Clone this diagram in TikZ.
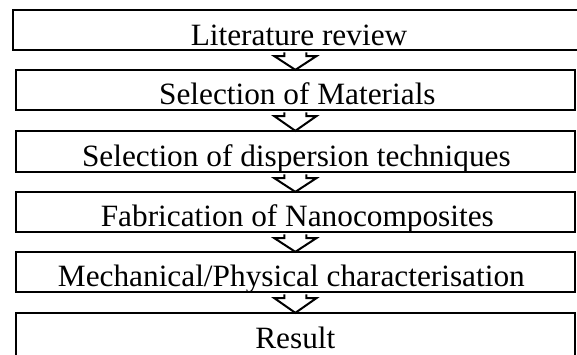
\documentclass[tikz,border=0pt]{standalone}
\usepackage{fontspec}
\setmainfont[FakeStretch=1.01]{Liberation Serif}
\usetikzlibrary{calc}
\begin{document}
\begin{tikzpicture}[x=1pt,y=-1pt,
  stagebox/.style={draw=black, line width=2.3pt, rectangle, inner sep=0pt, fill=white},
  stagetext/.style={anchor=base, inner sep=0pt, font=\fontsize{31}{37}\selectfont},
  blockarrow/.style={draw=black, line width=2pt, fill=white, line join=miter}]
\useasboundingbox (0,0) rectangle (577,354);
\fill[white] (0,0) rectangle (577,354);
% boxes
\node[stagebox, minimum width=568pt, minimum height=40pt] (b1) at (297,30) {};
\node[stagebox, minimum width=559.3pt, minimum height=40pt] (b2) at (295.35,90) {};
\node[stagebox, minimum width=559.3pt, minimum height=41pt] (b3) at (295.35,151.5) {};
\node[stagebox, minimum width=559.3pt, minimum height=40pt] (b4) at (295.35,212) {};
\node[stagebox, minimum width=559.3pt, minimum height=40pt] (b5) at (295.35,272) {};
\node[stagebox, minimum width=559.3pt, minimum height=43pt] (b6) at (295.35,334.5) {};
% texts, clipped by their boxes
\begin{scope}
  \clip (b1.north west) rectangle (b1.south east);
  \node[stagetext] (t1) at ($(b1.south)+(2,-5.5)$) {Literature review};
\end{scope}
\begin{scope}
  \clip (b2.north west) rectangle (b2.south east);
  \node[stagetext] (t2) at ($(b2.south)+(2,-7)$) {Selection of Materials};
\end{scope}
\begin{scope}
  \clip (b3.north west) rectangle (b3.south east);
  \node[stagetext] (t3) at ($(b3.south)+(1,-6.5)$) {Selection of dispersion techniques};
\end{scope}
\begin{scope}
  \clip (b4.north west) rectangle (b4.south east);
  \node[stagetext] (t4) at ($(b4.south)+(2,-7)$) {Fabrication of Nanocomposites};
\end{scope}
\begin{scope}
  \clip (b5.north west) rectangle (b5.south east);
  \node[stagetext] (t5) at ($(b5.south)+(-4,-7)$) {Mechanical/Physical characterisation};
\end{scope}
\begin{scope}
  \clip (b6.north west) rectangle (b6.south east);
  \node[stagetext] (t6) at ($(b6.south)+(0,-8.5)$) {Result};
\end{scope}
% block arrows between boxes
\foreach \a/\b in {b1/b2, b2/b3, b3/b4, b4/b5, b5/b6}{
  \path[blockarrow]
    ($(\a.south -| \b.center)+(-11,1.2)$) -- ($(\a.south -| \b.center)+(-11,5)$)
    -- ($(\a.south -| \b.center)+(-21,5)$) -- ($(\b.north)+(0,1)$)
    -- ($(\a.south -| \b.center)+(21,5)$) -- ($(\a.south -| \b.center)+(11,5)$)
    -- ($(\a.south -| \b.center)+(11,1.2)$);
}
\end{tikzpicture}
\end{document}
